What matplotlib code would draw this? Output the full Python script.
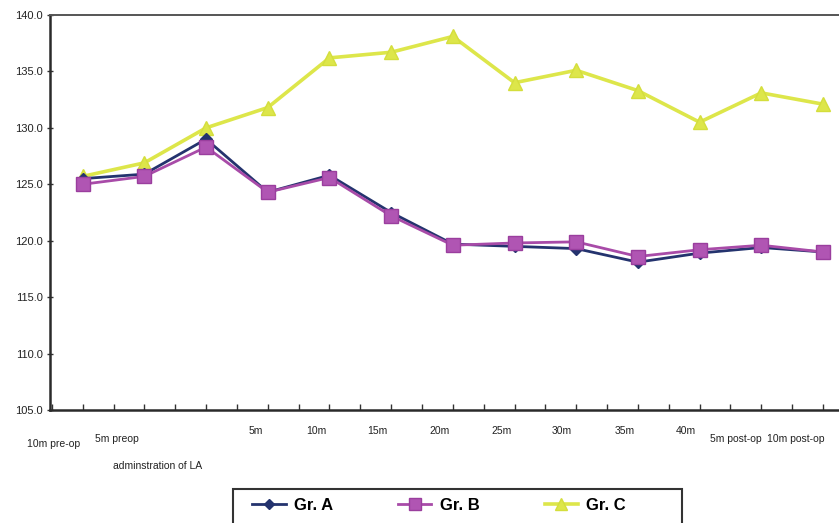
import matplotlib
matplotlib.use("Agg")
import matplotlib.pyplot as plt
from matplotlib.patches import Rectangle
from matplotlib.ticker import MultipleLocator, FormatStrFormatter
import numpy as np

# Time points of the recording
categories = ["10m pre-op", "5m preop", "adminstration of LA", "5m", "10m", "15m",
              "20m", "25m", "30m", "35m", "40m", "5m post-op", "10m post-op"]

# Mean values per group
gr_a = [125.5, 125.9, 129.0, 124.3, 125.8, 122.5, 119.7, 119.5, 119.3, 118.1, 118.9, 119.4, 119.0]
gr_b = [125.0, 125.7, 128.3, 124.3, 125.6, 122.2, 119.6, 119.8, 119.9, 118.6, 119.2, 119.6, 119.0]
gr_c = [125.7, 126.9, 130.0, 131.8, 136.2, 136.7, 138.1, 134.0, 135.1, 133.3, 130.5, 133.1, 132.1]

series_names = ["Gr. A", "Gr. B", "Gr. C"]

# Label layout: horizontal shift (in category units) and vertical position (axes fraction)
label_shift = [-0.47, -0.44, -0.78, -0.2, -0.21, -0.23, -0.21, -0.21, -0.23, -0.21, -0.23, -0.41, -0.44]
label_row = [-0.085, -0.074, -0.143, -0.054, -0.054, -0.054, -0.054, -0.054, -0.054, -0.054, -0.054,
             -0.074, -0.074]

narrow = ["Liberation Sans Narrow", "Liberation Sans", "DejaVu Sans"]

W, H = 839, 523
fig = plt.figure(figsize=(W / 100, H / 100), dpi=100)
ax = fig.add_axes([50 / W, 1 - 410 / H, 1 - 50 / W, (410 - 15) / H])

x = np.arange(len(categories))

ax.plot(x, gr_c, color="#dde64a", lw=2.6, marker="^", ms=10,
        markerfacecolor="#dde64a", markeredgecolor="#d4de3c", label=series_names[2], zorder=2)
ax.plot(x, gr_a, color="#24336e", lw=2.0, marker="D", ms=6,
        markerfacecolor="#24336e", markeredgecolor="#24336e", label=series_names[0], zorder=3)
ax.plot(x, gr_b, color="#a84ba8", lw=2.0, marker="s", ms=10,
        markerfacecolor="#b055b3", markeredgecolor="#9a3e9e", label=series_names[1], zorder=4)

ax.set_xlim(-0.53, 12.26)
ax.set_ylim(105, 140)
ax.yaxis.set_major_locator(MultipleLocator(5))
ax.yaxis.set_major_formatter(FormatStrFormatter("%.1f"))
ax.xaxis.set_major_locator(MultipleLocator(0.5))
ax.set_xticklabels([])

for lab in ax.get_yticklabels():
    lab.set_family(narrow)
    lab.set_fontsize(8)

ax.tick_params(axis="y", direction="inout", length=4, width=1, pad=3, colors="#333333",
               labelcolor="#222222")
ax.tick_params(axis="x", direction="in", length=4, width=1, colors="#333333")

for side in ["left", "bottom"]:
    ax.spines[side].set_linewidth(1.8)
    ax.spines[side].set_color("#2a2a2a")
ax.spines["top"].set_linewidth(1.4)
ax.spines["top"].set_color("#555555")
ax.spines["right"].set_visible(False)

for i, name in enumerate(categories):
    ax.text(i + label_shift[i], label_row[i], name, transform=ax.get_xaxis_transform(),
            ha="center", va="center", fontsize=7.5, family=narrow, color="#222222")

# Legend box
fig.patches.append(Rectangle((233 / W, -0.05), (682 - 233) / W, 0.05 + 1 - 489 / H,
                             transform=fig.transFigure, fill=False,
                             edgecolor="#333333", linewidth=1.5))

handles, labels = ax.get_legend_handles_labels()
order = [1, 2, 0]
leg = fig.legend([handles[k] for k in order], [labels[k] for k in order],
                 loc="center left", bbox_to_anchor=(244 / W, 1 - 505 / H),
                 ncol=3, frameon=False,
                 prop={"family": "Liberation Sans", "weight": "bold", "size": 12},
                 handlelength=2.0, columnspacing=3.9, borderpad=0.0, handletextpad=0.5,
                 markerscale=0.8)

fig.savefig("out.png", dpi=100)
